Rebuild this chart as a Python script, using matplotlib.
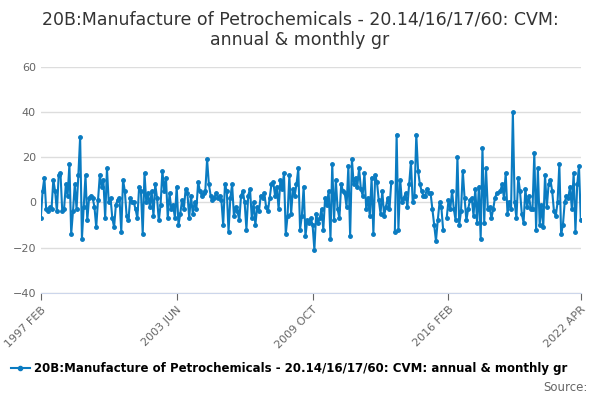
import numpy as np
import matplotlib
matplotlib.use("Agg")
import matplotlib.pyplot as plt

nan = np.nan
values = [
 -7, 5, 11, -3, -4, -2, -3, 10, 5, -4, 12,
 13, -4, -3, 8, 3, 17, -14, -4, 8, -3, 12, 29,
 -16, -2, 12, -8, 2, 3, 2, -2, -11, 1, 12, 7,
 10, -7, 15, 0, 2, -7, -11, -1, 1, 2, -13, 10,
 5, -6, -8, 2, 0, 0, -3, -7, 7, 5, -14, 13,
 0, 4, -2, 5, -6, 8, 2, -8, -1, 14, 5, 11,
 -7, 4, -3, -1, -7, 7, -10, -5, 1, -3, 6, 4,
 -7, 3, -5, 0, -3, 9, 5, 3, 4, 5, 19, 8,
 3, 1, 2, 4, 2, 3, 1, -10, 8, 5, -13, 2,
 8, -6, -2, -4, -8, 3, 5, 0, -12, 3, 6, -7,
 0, -10, -2, -4, 3, 2, 4, -2, -4, 2, 8, 9,
 3, 7, -3, 10, 6, 13, -14, -6, 12, -5, 6, 3,
 8, 15, -12, -6, 7, -15, -8, -9, -7, -10, -21, -5,
 -9, -7, -3, -12, 2, -1, 5, -16, 17, -8, 10, -3,
 -7, 8, 5, 4, -2, 16, -15, 19, 8, 11, 7, 15,
 6, 3, 13, -3, 2, -6, 11, -14, 12, 9, 1, -5,
 5, -6, -2, 2, -3, 9, nan, -13, 30, -12, 10, 0,
 2, 4, -2, 8, 18, 0, 3, 30, 14, 8, 5, 3,
 3, 6, 4, 4, -3, -10, -17, -8, 0, -2, -12, nan,
 -7, 1, -3, 5, -3, -8, 20, -10, -4, 14, 2, -8,
 -3, 1, 2, -6, 6, -9, 7, -16, 24, -9, 15, -3,
 -2, -7, -3, 2, 4, nan, 5, 8, 2, 13, -5, 0,
 -3, 40, 0, -7, 11, 5, -5, -9, 6, -2, 3, -3,
 -3, 22, -12, 15, -10, -1, -11, 12, -2, 8, 10, 5,
 -4, -6, 0, 17, -14, -10, 0, 3, 2, 7, -3, 13,
 -13, 8, 16, -8,
]
tick_labels = ["1997 FEB", "2003 JUN", "2009 OCT", "2016 FEB", "2022 APR"]
tick_pos = [0, 76, 152, 228, 302]
title = "20B:Manufacture of Petrochemicals - 20.14/16/17/60: CVM:\nannual & monthly gr"
label = "20B:Manufacture of Petrochemicals - 20.14/16/17/60: CVM: annual & monthly gr"

color = "#0a7bc1"
fig = plt.figure(figsize=(6, 4), dpi=100)
ax = fig.add_axes([0.068, 0.268, 0.9, 0.565])
x = np.arange(len(values))
ax.plot(x, values, color=color, lw=1.5, marker="o", ms=2.5)
ax.set_ylim(-40, 60)
ax.set_yticks([-40, -20, 0, 20, 40, 60])
ax.set_xlim(0, 302)
ax.set_xticks(tick_pos)
ax.set_xticklabels(tick_labels, rotation=45, ha="right", rotation_mode="anchor")
ax.grid(axis="y", color="#dddddd", lw=1)
for s in ["top", "right", "left"]:
    ax.spines[s].set_visible(False)
ax.spines["bottom"].set_color("#ccd6eb")
ax.tick_params(axis="y", length=0, colors="#666666", labelsize=8)
ax.tick_params(axis="x", colors="#666666", labelsize=8, length=5)
for t in ax.get_xticklabels():
    t.set_color("#666666")
ax.set_axisbelow(True)
fig.suptitle(title, fontsize=12.5, color="#333333", y=0.975)
fig.legend(handles=[plt.Line2D([], [], color=color, marker="o", ms=3, lw=1.5)],
           labels=[label], loc="lower left", bbox_to_anchor=(0.0, 0.035),
           frameon=False, fontsize=8.5, prop={"weight": "bold", "size": 8.5},
           handlelength=1.6, handletextpad=0.4)
fig.text(0.98, 0.015, "Source:", ha="right", va="bottom", fontsize=8.5, color="#666666")
fig.savefig("out.png", dpi=100)
